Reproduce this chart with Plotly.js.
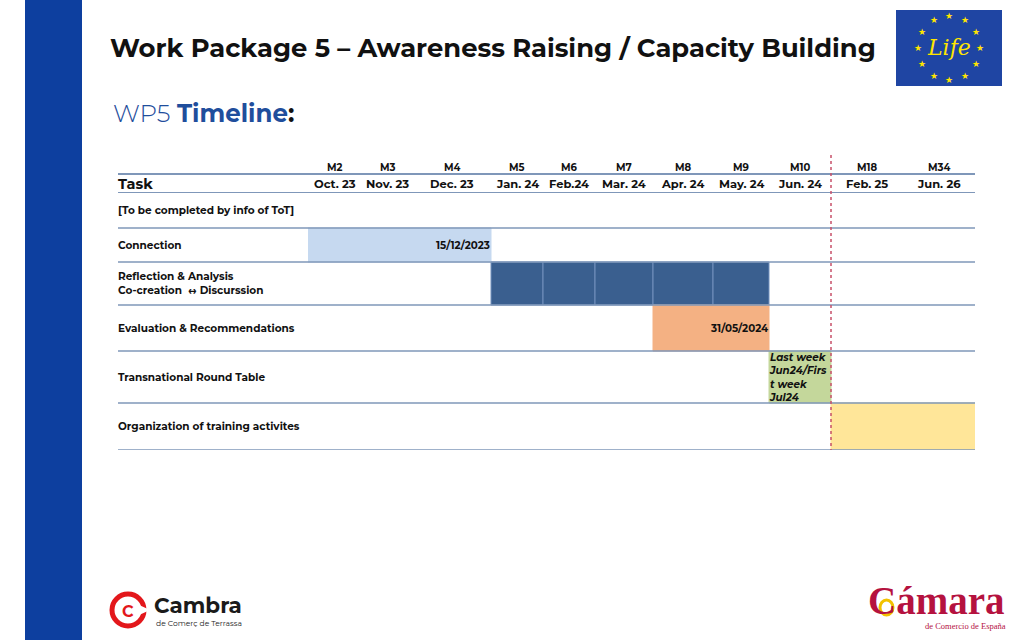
<!DOCTYPE html>
<html><head><meta charset="utf-8">
<script src="https://cdn.plot.ly/plotly-3.0.1.min.js"></script>
<style>html,body{margin:0;padding:0;background:#fff}#chart{width:1024px;height:640px}</style>
</head><body><div id="chart"></div>
<script>
// ---------------- DATA ----------------
const monthCodes = ["M2","M3","M4","M5","M6","M7","M8","M9","M10","M18","M34"];
const monthLabels = ["Oct. 23","Nov. 23","Dec. 23","Jan. 24","Feb.24","Mar. 24","Apr. 24","May. 24","Jun. 24","Feb. 25","Jun. 26"];
const tasks = ["[To be completed by info of ToT]","Connection","Reflection & Analysis<br>Co-creation  \u2194 Discurssion","Evaluation & Recommendations","Transnational Round Table","Organization of training activites"];
const taskStartCol = [null, 0, 3, 6, 8, 9];   // first month column (index into monthLabels)
const taskEndCol   = [null, 2, 7, 7, 8, 10];  // last month column (inclusive)
const taskNotes = ["", "15/12/2023", "", "31/05/2024", "Last week<br>Jun24/Firs<br>t week<br>Jul24", ""];
const milestoneAfterCol = 8; // dashed divider after "Jun. 24"

// ---------------- LAYOUT / STYLE ----------------
const W = 1024, H = 640;
const px = x => x / W, py = y => 1 - y / H;
const FONT = "Montserrat, Inter, 'Open Sans', sans-serif";
const taskColors = [null, "#c6d9f0", "#3a5f8f", "#f4b183", "#c4d79b", "#ffe699"];
const taskDividers = [false, false, true, false, false, false];
const colWidths = [54,51,78,52,52,58,60,56,62,71,73];
const rowHeights = [36,34,43,46,52,47];
const tableLeft = 118, gridLeft = 308, gridTop = 192;
const gridW = colWidths.reduce((a,b)=>a+b,0), gridH = rowHeights.reduce((a,b)=>a+b,0);
const colEdges = [0]; colWidths.forEach(w => colEdges.push(colEdges[colEdges.length-1]+w));
const rowEdges = [0]; rowHeights.forEach(h => rowEdges.push(rowEdges[rowEdges.length-1]+h));
const colCenter = i => (colEdges[i]+colEdges[i+1])/2;
const rowCenter = i => (rowEdges[i]+rowEdges[i+1])/2;

// bars
const bx=[], bbase=[], by=[], bw=[], bcol=[], blinec=[];
tasks.forEach((t,i) => {
  if (taskStartCol[i] === null) return;
  const segs = taskDividers[i]
    ? Array.from({length: taskEndCol[i]-taskStartCol[i]+1}, (_,k)=>[taskStartCol[i]+k, taskStartCol[i]+k])
    : [[taskStartCol[i], taskEndCol[i]]];
  segs.forEach(([s,e]) => {
    bbase.push(colEdges[s]); bx.push(colEdges[e+1]-colEdges[s]);
    by.push(rowCenter(i)); bw.push(rowHeights[i]);
    bcol.push(taskColors[i]); blinec.push(taskDividers[i] ? "#7391bd" : taskColors[i]);
  });
});
const traces = [{
  type: "bar", orientation: "h", x: bx, base: bbase, y: by, width: bw,
  marker: {color: bcol, line: {color: blinec, width: 1}},
  hoverinfo: "skip", showlegend: false
}];

const ann = [];
const shapes = [];
// left blue band
shapes.push({type:"rect", xref:"paper", yref:"paper", x0:px(25), x1:px(82), y0:0, y1:1, fillcolor:"#0d3f9f", line:{width:0}, layer:"below"});
// title
ann.push({xref:"paper", yref:"paper", x:px(108), y:py(48), xanchor:"left", yanchor:"middle", showarrow:false,
  text:"Work Package 5 \u2013 Awareness Raising / Capacity Building", font:{family:FONT, size:25.8, color:"#111", weight:700}});
ann.push({xref:"paper", yref:"paper", x:px(111), y:py(113), xanchor:"left", yanchor:"middle", showarrow:false,
  text:"<span style='font-weight:300'>WP5</span> <b>Timeline</b><b><span style='color:#111'>:</span></b>", font:{family:FONT, size:24.5, color:"#1f4e9c"}});

// header
ann.push({xref:"paper", yref:"paper", x:px(tableLeft-2), y:py(184), xanchor:"left", yanchor:"middle", showarrow:false,
  text:"<b>Task</b>", font:{family:FONT, size:14.5, color:"#111"}});
monthCodes.forEach((m,i) => {
  ann.push({xref:"x", yref:"paper", x:colCenter(i), y:py(167), xanchor:"center", yanchor:"middle", showarrow:false,
    text:"<b>"+m+"</b>", font:{family:FONT, size:10, color:"#111"}});
  ann.push({xref:"x", yref:"paper", x:colCenter(i), y:py(184), xanchor:"center", yanchor:"middle", showarrow:false,
    text:"<b>"+monthLabels[i]+"</b>", font:{family:FONT, size:11.5, color:"#111"}});
});
// task labels and notes
tasks.forEach((t,i) => {
  ann.push({xref:"paper", yref:"y", x:px(tableLeft-2), y:rowCenter(i), xanchor:"left", yanchor:"middle", align:"left", showarrow:false,
    text:"<b>"+t+"</b>", font:{family:FONT, size:10.5, color:"#111"}});
  if (taskNotes[i]) {
    const multi = taskNotes[i].indexOf("<br>") >= 0;
    ann.push({xref:"x", yref:"y",
      x: multi ? colEdges[taskStartCol[i]]-2 : colEdges[taskEndCol[i]+1]+1,
      y: rowCenter(i), xanchor: multi ? "left" : "right", yanchor:"middle", align:"left", showarrow:false,
      text: multi ? "<b><i>"+taskNotes[i]+"</i></b>" : "<b>"+taskNotes[i]+"</b>",
      font:{family:FONT, size:10.3, color:"#111"}});
  }
});
// horizontal rules
const lineC = "#7f97b9";
shapes.push({type:"line", xref:"paper", yref:"paper", x0:px(tableLeft), x1:px(gridLeft+gridW), y0:py(174), y1:py(174), line:{color:lineC, width:2}});
rowEdges.forEach((r) => {
  shapes.push({type:"line", xref:"paper", yref:"y", x0:px(tableLeft), x1:px(gridLeft+gridW), y0:r, y1:r, line:{color:lineC, width: r===0?2:1.6}});
});
// milestone divider
shapes.push({type:"line", xref:"x", yref:"paper", x0:colEdges[milestoneAfterCol+1], x1:colEdges[milestoneAfterCol+1], y0:py(155), y1:py(450), line:{color:"#c8506a", width:1.5, dash:"dot"}});

// EU LIFE logo
shapes.push({type:"rect", xref:"paper", yref:"paper", x0:px(896), x1:px(1002), y0:py(86), y1:py(10), fillcolor:"#1f45a3", line:{width:0}});
for (let k=0;k<12;k++){
  const a = k*Math.PI/6;
  ann.push({xref:"paper", yref:"paper", x:px(949+31*Math.sin(a)), y:py(48-32*Math.cos(a)), xanchor:"center", yanchor:"middle", showarrow:false,
    text:"\u2605", font:{family:"DejaVu Sans", size:9, color:"#ffe500"}});
}
ann.push({xref:"paper", yref:"paper", x:px(949), y:py(48), xanchor:"center", yanchor:"middle", showarrow:false,
  text:"<i>Life</i>", font:{family:"DejaVu Serif", size:22, color:"#ffe500"}});

// Cambra logo
shapes.push({type:"circle", xref:"paper", yref:"paper", x0:px(112), x1:px(144), y0:py(626), y1:py(594), line:{color:"#e3171b", width:5}});
shapes.push({type:"path", xref:"paper", yref:"paper", path:`M ${px(137)},${py(604)} L ${px(150)},${py(610)} L ${px(137)},${py(616)} Z`, fillcolor:"#fff", line:{width:0}});
ann.push({xref:"paper", yref:"paper", x:px(128), y:py(611), xanchor:"center", yanchor:"middle", showarrow:false,
  text:"<b>C</b>", font:{family:FONT, size:16, color:"#e3171b"}});
ann.push({xref:"paper", yref:"paper", x:px(152), y:py(605), xanchor:"left", yanchor:"middle", showarrow:false,
  text:"<b>Cambra</b>", font:{family:FONT, size:21.5, color:"#1a1a1a"}});
ann.push({xref:"paper", yref:"paper", x:px(154), y:py(623), xanchor:"left", yanchor:"middle", showarrow:false,
  text:"de Comer\u00e7 de Terrassa", font:{family:FONT, size:7.6, color:"#1a1a1a"}});

// Camara logo
ann.push({xref:"paper", yref:"paper", x:px(866), y:py(600), xanchor:"left", yanchor:"middle", showarrow:false,
  text:"<b>C\u00e1mara</b>", font:{family:"Liberation Serif", size:39, color:"#b5123f"}});
shapes.push({type:"circle", xref:"paper", yref:"paper", x0:px(880), x1:px(893), y0:py(615), y1:py(600), line:{color:"#f2c200", width:3}});
ann.push({xref:"paper", yref:"paper", x:px(1008), y:py(626), xanchor:"right", yanchor:"middle", showarrow:false,
  text:"de Comercio de Espa\u00f1a", font:{family:"Liberation Serif", size:8.5, color:"#b5123f"}});

const layout = {
  width: W, height: H, margin:{l:0,r:0,t:0,b:0},
  paper_bgcolor:"#fff", plot_bgcolor:"rgba(0,0,0,0)",
  barmode:"overlay", bargap:0, showlegend:false,
  xaxis:{domain:[px(gridLeft), px(gridLeft+gridW)], range:[0,gridW], visible:false, fixedrange:true},
  yaxis:{domain:[py(gridTop+gridH), py(gridTop)], range:[gridH,0], visible:false, fixedrange:true},
  shapes: shapes, annotations: ann
};
Plotly.newPlot("chart", traces, layout, {staticPlot:true, displayModeBar:false});
</script></body></html>
